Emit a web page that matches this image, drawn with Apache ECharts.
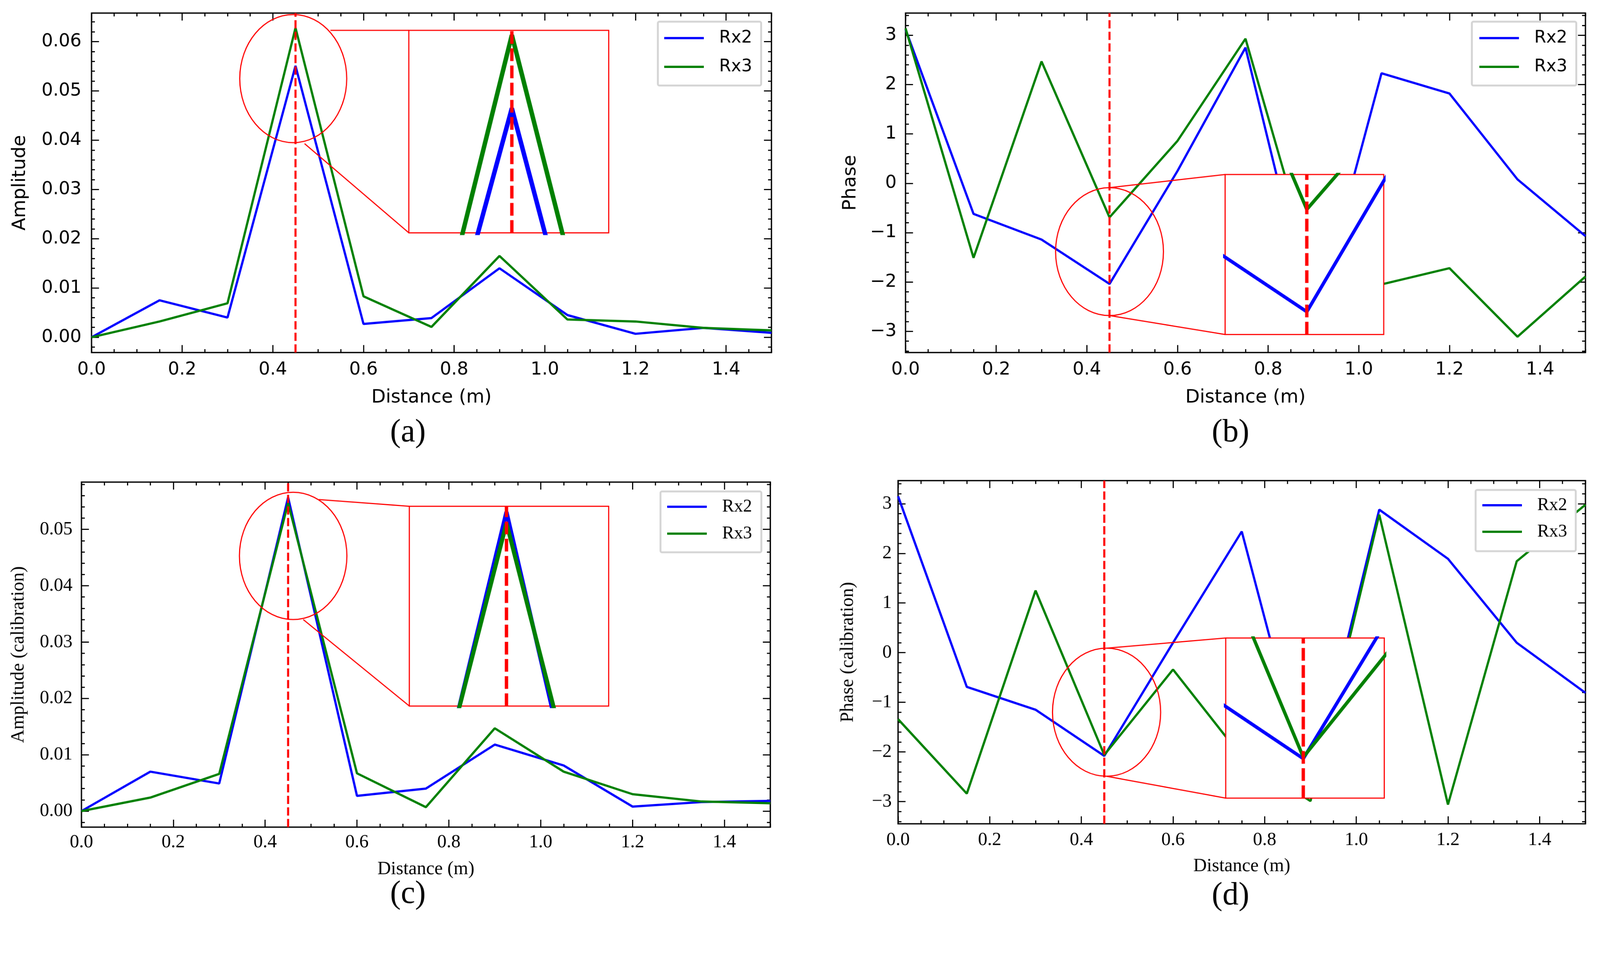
<!DOCTYPE html>
<html><head><meta charset="utf-8">
<script src="https://cdn.jsdelivr.net/npm/echarts@6/dist/echarts.min.js"></script>
<style>html,body{margin:0;padding:0;background:#fff;overflow:hidden}#c{width:4283px;height:2456px;transform-origin:0 0}</style>
</head><body><div id="c"></div>
<script>
// ---------------- data ----------------
const distance = [0, 0.15, 0.3, 0.45, 0.6, 0.75, 0.9, 1.05, 1.2, 1.35, 1.5];
const amplitudeRx2 = [0.0000, 0.0075, 0.0040, 0.0551, 0.0027, 0.0039, 0.0140, 0.0045, 0.0007, 0.0019, 0.0009];
const amplitudeRx3 = [0.0000, 0.0032, 0.0069, 0.0628, 0.0083, 0.0021, 0.0165, 0.0036, 0.0032, 0.0019, 0.0014];
const phaseRx2 = [3.12, -0.62, -1.14, -2.04, 0.25, 2.75, -2.90, 2.23, 1.82, 0.08, -1.07];
const phaseRx3 = [3.14, -1.51, 2.47, -0.69, 0.86, 2.93, -1.85, -2.05, -1.72, -3.11, -1.89];
const calAmplitudeRx2 = [0.0000, 0.0070, 0.0049, 0.0557, 0.0027, 0.0040, 0.0118, 0.0081, 0.0008, 0.0016, 0.0018];
const calAmplitudeRx3 = [0.0000, 0.0024, 0.0066, 0.0547, 0.0067, 0.0007, 0.0147, 0.0070, 0.0030, 0.0017, 0.0014];
const calPhaseRx2 = [3.15, -0.69, -1.15, -2.08, 0.20, 2.44, -2.80, 2.88, 1.89, 0.20, -0.81];
const calPhaseRx3 = [-1.34, -2.84, 1.25, -2.06, -0.34, -2.10, -2.99, 2.78, -3.06, 1.84, 2.98];

const distanceTicks = [0, 0.2, 0.4, 0.6, 0.8, 1.0, 1.2, 1.4];
const amplitudeTicks = [0, 0.01, 0.02, 0.03, 0.04, 0.05, 0.06];
const calAmplitudeTicks = [0, 0.01, 0.02, 0.03, 0.04, 0.05];
const phaseTicks = [-3, -2, -1, 0, 1, 2, 3];
const seriesNames = ['Rx2', 'Rx3'];
const captions = ['(a)', '(b)', '(c)', '(d)'];
const markerDistance = 0.45;

// zoom annotations (main-axes data coords)
const ellipseA = [0.445, 0.0525, 0.118, 0.0130];
const ellipseB = [0.450, -1.385, 0.119, 1.296];
const ellipseC = [0.461, 0.0453, 0.117, 0.0113];
const ellipseD = [0.455, -1.20, 0.118, 1.29];
const insetBoxA = [0.700, 1.141, 0.0212, 0.0623];
const insetBoxB = [0.705, 1.055, -3.065, 0.178];
const insetBoxC = [0.714, 1.148, 0.01865, 0.0541];
const insetBoxD = [0.715, 1.061, -2.93, 0.294];
const insetViewA = [0.333, 0.560, 0.0420, 0.0633];
const insetViewB = [0.330, 0.563, -2.34, -0.23];
const insetViewC = [0.3445, 0.561, 0.0384, 0.0562];
const insetViewD = [0.337, 0.568, -2.61, -0.46];
const connectorStartA = [[0.527, 0.0623], [0.470, 0.0393]];
const connectorStartB = [[0.450, -0.089], [0.450, -2.681]];
const connectorStartC = [[0.517, 0.0553], [0.483, 0.0340]];
const connectorStartD = [[0.455, 0.09], [0.455, -2.49]];

// ---------------- layout / style ----------------
const SANS = "'DejaVu Sans', sans-serif";
const SERIF = "'Liberation Serif', 'Times New Roman', serif";
const layout = [
  {L:245, T:35, R:2065, B:944, yr:[-0.0031, 0.0658], font:SANS, tickSize:48, nameSize:50, yName:'Amplitude',
   yTicks:amplitudeTicks, yMinor:0.002, yDec:2, yNameGap:166, yLabelMargin:27, xNameGap:96, xLabelMargin:23,
   cap:[1092,1159], leg:{left:1761, top:58, padding:[21,24,27,17], itemGap:31, fontSize:46, textPad:36}, insetW:12},
  {L:2424, T:35, R:4244, B:944, yr:[-3.43, 3.45], font:SANS, tickSize:48, nameSize:50, yName:'Phase',
   yTicks:phaseTicks, yMinor:0.2, yDec:0, yNameGap:122, yLabelMargin:24, xNameGap:96, xLabelMargin:23,
   cap:[3294,1159], leg:{left:3940, top:58, padding:[21,24,27,20], itemGap:31, fontSize:46, textPad:36}, insetW:9},
  {L:218, T:1291, R:2062, B:2215, yr:[-0.00285, 0.0584], font:SERIF, tickSize:50, nameSize:50, yName:'Amplitude (calibration)',
   yTicks:calAmplitudeTicks, yMinor:0.002, yDec:2, yNameGap:143, yLabelMargin:24, xNameGap:88, xLabelMargin:16,
   cap:[1092,2395], leg:{left:1768, top:1316, padding:[17,25,26,18], itemGap:24, fontSize:48, textPad:36}, insetW:11},
  {L:2404, T:1287, R:4244, B:2206, yr:[-3.447, 3.465], font:SERIF, tickSize:50, nameSize:50, yName:'Phase (calibration)',
   yTicks:phaseTicks, yMinor:0.2, yDec:0, yNameGap:109, yLabelMargin:17, xNameGap:89, xLabelMargin:19,
   cap:[3294,2399], leg:{left:3950, top:1312, padding:[17,23,28,18], itemGap:23, fontSize:48, textPad:36}, insetW:9}
];
const dataSets = [[amplitudeRx2, amplitudeRx3], [phaseRx2, phaseRx3], [calAmplitudeRx2, calAmplitudeRx3], [calPhaseRx2, calPhaseRx3]];
const ellipses = [ellipseA, ellipseB, ellipseC, ellipseD];
const boxes = [insetBoxA, insetBoxB, insetBoxC, insetBoxD];
const views = [insetViewA, insetViewB, insetViewC, insetViewD];
const connStarts = [connectorStartA, connectorStartB, connectorStartC, connectorStartD];
const colors = ['#0000ff', '#008000'];
const RED = '#ff0000';
const xr = [0, 1.5];

function minorValues(min, max, step, majors) {
  const out = [];
  for (let k = Math.ceil(min / step - 1e-9); k * step <= max + 1e-12; k++) {
    const v = +(k * step).toFixed(6);
    if (!majors.some(m => Math.abs(m - v) < step * 1e-3)) out.push(v);
  }
  return out;
}
const pairs = ys => distance.map((x, i) => [x, ys[i]]);
function fmt(v, dec) {
  const s = Math.abs(v) < 1e-12 ? (0).toFixed(dec) : v.toFixed(dec);
  return s.replace('-', '\u2212');
}

const grid = [], xAxis = [], yAxis = [], series = [], legend = [], graphic = [];
const tickStyle = {color: '#000', width: 3};

layout.forEach((p, i) => {
  const W = p.R - p.L, H = p.B - p.T;
  const gi = grid.length;
  grid.push({left: p.L, top: p.T, width: W, height: H, show: true, borderColor: '#000', borderWidth: 3.5,
    backgroundColor: 'transparent', containLabel: false, outerBoundsMode: 'none', z: 0});
  const xMinor = minorValues(xr[0], xr[1], 0.05, distanceTicks);
  const yMinor = minorValues(p.yr[0], p.yr[1], p.yMinor, p.yTicks);
  const xBase = {type: 'value', gridIndex: gi, min: xr[0], max: xr[1], axisLine: {show: false, onZero: false}, splitLine: {show: false}, silent: true};
  const yBase = {type: 'value', gridIndex: gi, min: p.yr[0], max: p.yr[1], axisLine: {show: false, onZero: false}, splitLine: {show: false}, silent: true};
  const major = vals => ({show: true, inside: true, length: 20, customValues: vals, lineStyle: tickStyle});
  const minor = vals => ({show: true, inside: true, length: 9, customValues: vals, lineStyle: tickStyle});
  const xi = xAxis.length;
  xAxis.push(Object.assign({}, xBase, {position: 'bottom', axisTick: major(distanceTicks),
    axisLabel: {show: true, customValues: distanceTicks, formatter: v => fmt(v, 1), margin: p.xLabelMargin, fontFamily: p.font, fontSize: p.tickSize, color: '#000'},
    name: 'Distance (m)', nameLocation: 'middle', nameGap: p.xNameGap, nameTextStyle: {fontFamily: p.font, fontSize: p.nameSize, color: '#000'}}));
  xAxis.push(Object.assign({}, xBase, {position: 'bottom', axisTick: minor(xMinor), axisLabel: {show: false}}));
  xAxis.push(Object.assign({}, xBase, {position: 'top', axisTick: major(distanceTicks), axisLabel: {show: false}}));
  xAxis.push(Object.assign({}, xBase, {position: 'top', axisTick: minor(xMinor), axisLabel: {show: false}}));
  const yi = yAxis.length;
  yAxis.push(Object.assign({}, yBase, {position: 'left', axisTick: major(p.yTicks),
    axisLabel: {show: true, customValues: p.yTicks, formatter: v => fmt(v, p.yDec), margin: p.yLabelMargin, fontFamily: p.font, fontSize: p.tickSize, color: '#000'},
    name: p.yName, nameLocation: 'middle', nameRotate: 90, nameGap: p.yNameGap, nameTextStyle: {fontFamily: p.font, fontSize: p.nameSize, color: '#000'}}));
  yAxis.push(Object.assign({}, yBase, {position: 'left', axisTick: minor(yMinor), axisLabel: {show: false}}));
  yAxis.push(Object.assign({}, yBase, {position: 'right', axisTick: major(p.yTicks), axisLabel: {show: false}}));
  yAxis.push(Object.assign({}, yBase, {position: 'right', axisTick: minor(yMinor), axisLabel: {show: false}}));

  dataSets[i].forEach((ys, k) => {
    series.push({type: 'line', name: seriesNames[k], xAxisIndex: xi, yAxisIndex: yi, data: pairs(ys), symbol: 'none',
      lineStyle: {color: colors[k], width: 6}, itemStyle: {color: colors[k]}, z: 2, clip: true, silent: true});
  });
  series.push({type: 'line', name: 'marker', xAxisIndex: xi, yAxisIndex: yi, data: [[markerDistance, p.yr[0]], [markerDistance, p.yr[1]]],
    symbol: 'none', lineStyle: {color: RED, width: 5.5, type: [22, 9]}, z: 3, silent: true});
  series.push({type: 'custom', xAxisIndex: xi, yAxisIndex: yi, data: [ellipses[i]], z: 3, silent: true,
    renderItem: (params, api) => {
      const c = api.coord([api.value(0), api.value(1)]);
      const s = api.size([api.value(2), api.value(3)]);
      return {type: 'ellipse', shape: {cx: c[0], cy: c[1], rx: s[0], ry: s[1]}, style: {fill: 'none', stroke: RED, lineWidth: 3}};
    }});
  const box = boxes[i];
  series.push({type: 'custom', xAxisIndex: xi, yAxisIndex: yi, z: 3, silent: true,
    data: connStarts[i].map((s, k) => [s[0], s[1], box[0], k === 0 ? box[3] : box[2]]),
    renderItem: (params, api) => {
      const a = api.coord([api.value(0), api.value(1)]);
      const b = api.coord([api.value(2), api.value(3)]);
      return {type: 'line', shape: {x1: a[0], y1: a[1], x2: b[0], y2: b[1]}, style: {stroke: RED, lineWidth: 3}};
    }});

  const view = views[i];
  const px = x => p.L + (x - xr[0]) / (xr[1] - xr[0]) * W;
  const py = y => p.T + (p.yr[1] - y) / (p.yr[1] - p.yr[0]) * H;
  const ig = grid.length;
  grid.push({left: px(box[0]), top: py(box[3]), width: px(box[1]) - px(box[0]), height: py(box[2]) - py(box[3]),
    show: true, backgroundColor: '#fff', borderColor: RED, borderWidth: 3, z: 4, containLabel: false, outerBoundsMode: 'none'});
  const ixi = xAxis.length, iyi = yAxis.length;
  xAxis.push({type: 'value', gridIndex: ig, min: view[0], max: view[1], show: false, splitLine: {show: false}});
  yAxis.push({type: 'value', gridIndex: ig, min: view[2], max: view[3], show: false, splitLine: {show: false}});
  dataSets[i].forEach((ys, k) => {
    series.push({type: 'line', name: seriesNames[k], xAxisIndex: ixi, yAxisIndex: iyi, data: pairs(ys), symbol: 'none',
      lineStyle: {color: colors[k], width: p.insetW}, itemStyle: {color: colors[k]}, z: 6, clip: true, silent: true});
  });
  series.push({type: 'line', name: 'marker', xAxisIndex: ixi, yAxisIndex: iyi, data: [[markerDistance, view[2]], [markerDistance, view[3]]],
    symbol: 'none', lineStyle: {color: RED, width: 9, type: [34, 12]}, z: 7, silent: true, clip: true});

  legend.push({show: true, orient: 'vertical', left: p.leg.left, top: p.leg.top, data: seriesNames.slice(), icon: 'rect',
    itemWidth: 106, itemHeight: 6, itemGap: p.leg.itemGap, padding: p.leg.padding, backgroundColor: '#fff',
    borderColor: '#d4d4d4', borderWidth: 5, borderRadius: 4, z: 10, selectedMode: false,
    textStyle: {fontFamily: p.font, fontSize: p.leg.fontSize, color: '#000', padding: [0, 0, 0, p.leg.textPad]}});

  graphic.push({type: 'text', x: p.cap[0], y: p.cap[1], z: 10, silent: true,
    style: {text: captions[i], fontFamily: SERIF, fontSize: 86, fill: '#000', align: 'center', verticalAlign: 'middle', textAlign: 'center', textVerticalAlign: 'middle'}});
});

// fit the 4283x2456 drawing into the actual viewport
const el = document.getElementById('c');
const vw = window.innerWidth || 4283, vh = window.innerHeight || 2456;
const fit = Math.min(vw / 4283, vh / 2456);
if (Math.abs(fit - 1) > 0.002) el.style.transform = 'scale(' + fit + ')';

const chart = echarts.init(el, null, {renderer: 'canvas', width: 4283, height: 2456});
chart.setOption({
  animation: false,
  backgroundColor: '#fff',
  tooltip: {show: false},
  grid, xAxis, yAxis, series, legend, graphic
});
</script>
</body></html>
